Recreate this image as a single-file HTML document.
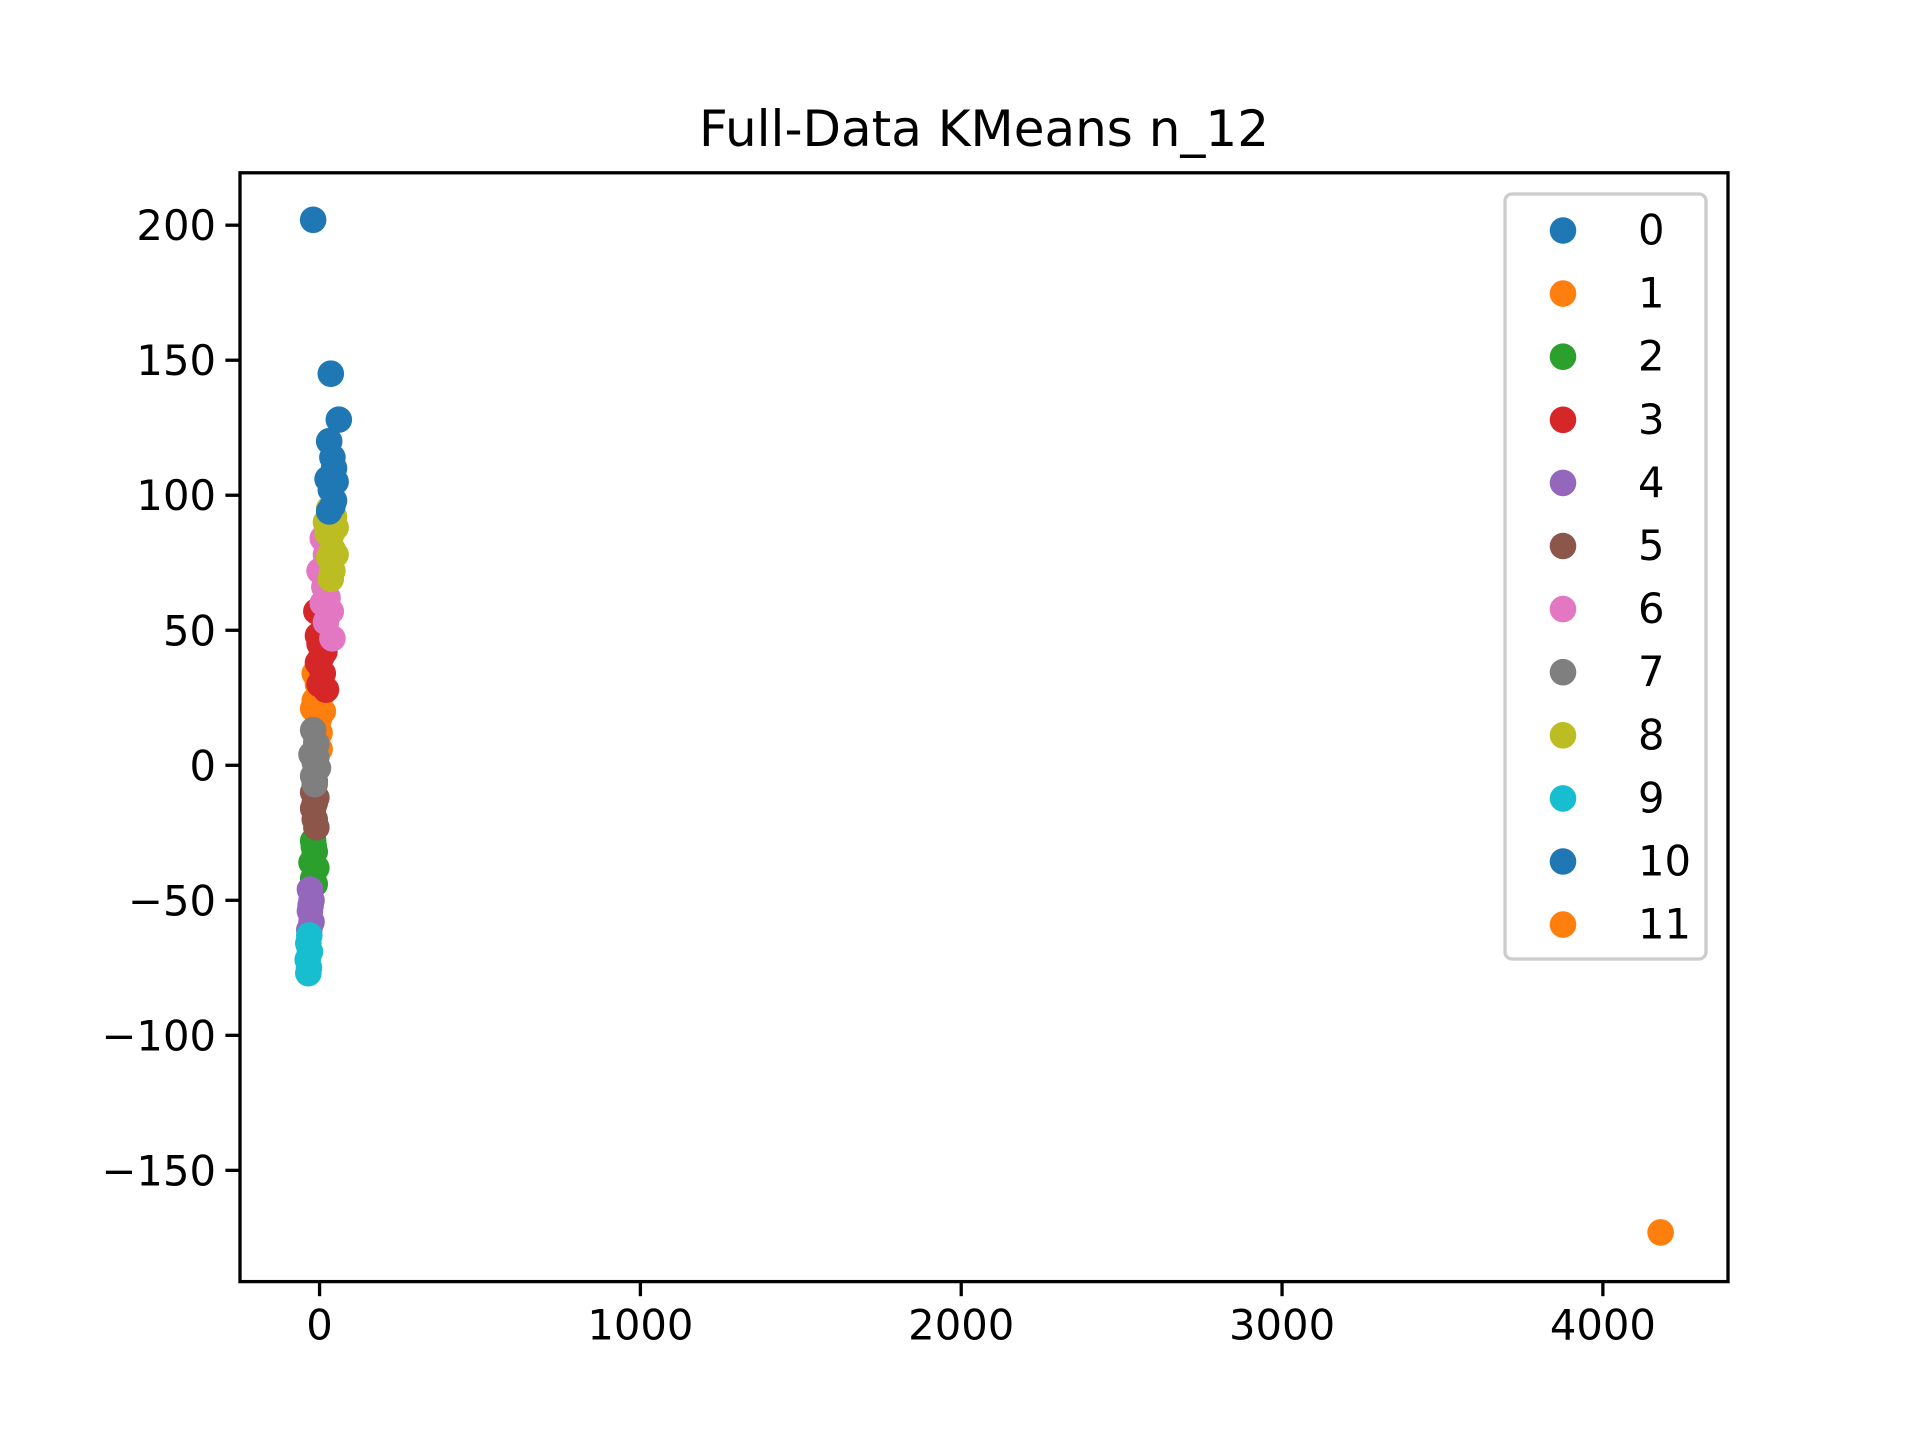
<!DOCTYPE html>
<html><head><meta charset="utf-8"><style>
body{margin:0;background:#fff;}
svg text{font-family:"DejaVu Sans","Liberation Sans",sans-serif;fill:#000;}
</style></head><body>
<svg id="chart" width="1920" height="1440" viewBox="0 0 1920 1440" xmlns="http://www.w3.org/2000/svg">
<rect width="1920" height="1440" fill="#fff"/>
<text x="984" y="146" font-size="50" text-anchor="middle">Full-Data KMeans n_12</text>
<g id="marks"></g><g id="axes"></g><g id="legend"></g>
</svg>
<script>
const clusterLabels=["0","1","2","3","4","5","6","7","8","9","10","11"];
const clusterColors=["#1f77b4","#ff7f0e","#2ca02c","#d62728","#9467bd","#8c564b","#e377c2","#7f7f7f","#bcbd22","#17becf","#1f77b4","#ff7f0e"];
const c0=[[-20,202],[35,145],[60,128],[30,120],[40,114],[45,110],[25,106],[35,102],[45,98]];
const c1=[[-15,34],[-5,30],[5,26],[-20,21],[10,20],[-5,16],[0,12],[-10,9],[0,6],[-15,24],[5,32],[-5,22],[0,18]];
const c2=[[-20,-28],[-15,-32],[-25,-36],[-10,-38],[-20,-42],[-15,-44],[-18,-30]];
const c3=[[-10,57],[10,50],[0,45],[15,42],[-5,38],[10,34],[0,30],[20,28],[5,40],[-5,48]];
const c4=[[-30,-46],[-25,-50],[-30,-54],[-25,-58],[-32,-61],[-28,-52]];
const c5=[[-15,-6],[-20,-10],[-10,-12],[-20,-16],[-15,-20],[-10,-23],[-15,-14]];
const c6=[[10,84],[20,78],[0,72],[15,66],[25,62],[10,60],[35,57],[20,53],[40,47],[15,70]];
const c7=[[-20,13],[-10,8],[-25,4],[-15,1],[-5,-1],[-20,-4],[-15,-7],[-10,3]];
const c8=[[30,95],[45,92],[20,90],[50,88],[35,85],[40,80],[30,77],[50,78],[40,72],[35,69],[25,86]];
const c9=[[-32,-63],[-35,-66],[-30,-69],[-37,-72],[-33,-75],[-35,-77]];
const c10=[[50,105],[40,96],[30,94]];
const c11=[[4180,-173]];
const clusters=[c0,c1,c2,c3,c4,c5,c6,c7,c8,c9,c10,c11];
const xTicks=[0,1000,2000,3000,4000];
const yTicks=[200,150,100,50,0,-50,-100,-150];
const NS="http://www.w3.org/2000/svg";
const L=240,R=1728,T=172.8,B=1281.6;
const xMin=-248,xMax=4390,yMin=-191.2,yMax=219.4;
function sx(v){return L+(v-xMin)/(xMax-xMin)*(R-L);}
function sy(v){return B-(v-yMin)/(yMax-yMin)*(B-T);}
function mk(tag,attrs,parent){const e=document.createElementNS(NS,tag);for(const k in attrs)e.setAttribute(k,attrs[k]);parent.appendChild(e);return e;}
const marks=document.getElementById('marks');
clusters.forEach((pts,ci)=>{pts.forEach(p=>{
 const c=mk('circle',{cx:sx(p[0]),cy:sy(p[1]),r:13.3,fill:clusterColors[ci]},marks);
 
 
});});
const axes=document.getElementById('axes');
const frame=mk('rect',{x:L,y:T,width:R-L,height:B-T,fill:'none',stroke:'#000','stroke-width':3.3},axes);


xTicks.forEach(v=>{
 const x=sx(v);
 const t=mk('line',{x1:x,x2:x,y1:B,y2:B+14.6,stroke:'#000','stroke-width':3.3},axes);
 
 
 const tx=mk('text',{x:x,y:B+58,'font-size':41.7,'text-anchor':'middle'},axes);
 tx.textContent=String(v);
 
 
});
yTicks.forEach(v=>{
 const y=sy(v);
 const t=mk('line',{x1:L-14.6,x2:L,y1:y,y2:y,stroke:'#000','stroke-width':3.3},axes);
 
 
 const tx=mk('text',{x:L-24,y:y+15,'font-size':41.7,'text-anchor':'end'},axes);
 tx.textContent=v<0?'\u2212'+(-v):String(v);
 
 
});
const lg=document.getElementById('legend');
const box=mk('rect',{x:1505,y:194,width:201,height:765,rx:7,fill:'#fff','fill-opacity':0.8,stroke:'#ccc','stroke-width':3.3},lg);


clusterLabels.forEach((lab,i)=>{
 const y=230.5+i*63.1;
 const c=mk('circle',{cx:1563,cy:y,r:13.3,fill:clusterColors[i]},lg);
 
 
 const t=mk('text',{x:1638,y:y+14,'font-size':41.7},lg);
 t.textContent=lab;
 
 
});
</script>
</body></html>
